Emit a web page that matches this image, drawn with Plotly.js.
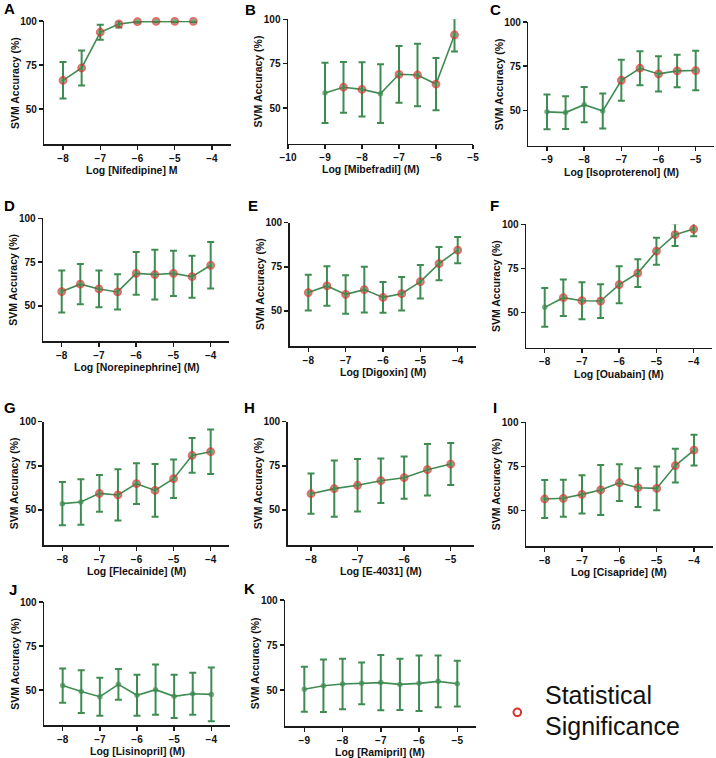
<!DOCTYPE html>
<html><head><meta charset="utf-8">
<script src="https://cdn.plot.ly/plotly-3.0.1.min.js"></script>
<style>html,body{margin:0;padding:0;background:#fff}#chart{width:716px;height:758px}</style>
</head><body><div id="chart"></div>
<script>
// ---------- DATA ----------
const nifedipineDose = [-8,-7.5,-7,-6.5,-6,-5.5,-5,-4.5];
const nifedipineAcc  = [66.3,73.3,93.6,98.3,99.6,99.8,99.8,99.8];
const nifedipineSD   = [10.4,10.0,4.3,2.0,0.5,0.3,0.3,0.3];
const nifedipineSig  = [1,1,1,1,1,1,1,1];

const mibefradilDose = [-9,-8.5,-8,-7.5,-7,-6.5,-6,-5.5];
const mibefradilAcc  = [58.5,61.7,60.5,58.1,69.0,68.6,63.5,91.2];
const mibefradilSD   = [17.0,14.3,15.3,16.6,16.0,17.6,14.7,9.4];
const mibefradilSig  = [0,1,1,0,1,1,1,1];

const isoproterenolDose = [-9,-8.5,-8,-7.5,-7,-6.5,-6,-5.5,-5];
const isoproterenolAcc  = [49.1,48.7,53.2,49.6,67.0,73.8,70.6,72.3,72.5];
const isoproterenolSD   = [9.9,9.3,10.0,9.9,11.6,9.6,10.0,9.2,11.2];
const isoproterenolSig  = [0,0,0,0,1,1,1,1,1];

const norepinephrineDose = [-8,-7.5,-7,-6.5,-6,-5.5,-5,-4.5,-4];
const norepinephrineAcc  = [58.2,62.4,59.7,58.0,68.6,67.9,68.6,66.7,73.2];
const norepinephrineSD   = [12.0,11.5,10.5,10.1,12.2,14.2,12.9,12.0,13.3];
const norepinephrineSig  = [1,1,1,1,1,1,1,1,1];

const digoxinDose = [-8,-7.5,-7,-6.5,-6,-5.5,-5,-4.5,-4];
const digoxinAcc  = [60.4,64.2,59.4,62.1,57.7,59.8,66.6,76.8,84.5];
const digoxinSD   = [10.1,11.2,10.9,13.0,8.7,9.5,9.5,9.4,7.4];
const digoxinSig  = [1,1,1,1,1,1,1,1,1];

const ouabainDose = [-8,-7.5,-7,-6.5,-6,-5.5,-5,-4.5,-4];
const ouabainAcc  = [52.8,58.3,56.6,56.4,65.7,72.3,84.7,94.1,97.3];
const ouabainSD   = [11.0,10.4,10.5,9.6,10.5,7.9,7.7,6.5,4.1];
const ouabainSig  = [0,1,1,1,1,1,1,1,1];

const flecainideDose = [-8,-7.5,-7,-6.5,-6,-5.5,-5,-4.5,-4];
const flecainideAcc  = [53.6,54.5,59.4,58.5,64.9,61.1,67.7,80.9,83.0];
const flecainideSD   = [12.2,12.9,10.4,14.5,11.5,14.9,10.9,9.8,12.6];
const flecainideSig  = [0,0,1,1,1,1,1,1,1];

const e4031Dose = [-8,-7.5,-7,-6.5,-6,-5.5,-5];
const e4031Acc  = [59.2,62.1,64.0,66.6,68.3,72.8,76.0];
const e4031SD   = [11.4,15.9,14.9,12.6,12.0,14.6,11.9];
const e4031Sig  = [1,1,1,1,1,1,1];

const cisaprideDose = [-8,-7.5,-7,-6.5,-6,-5.5,-5,-4.5,-4];
const cisaprideAcc  = [56.6,57.0,59.2,61.7,65.8,63.0,62.6,75.5,84.3];
const cisaprideSD   = [10.7,10.5,10.8,14.1,10.4,11.0,12.4,9.6,8.7];
const cisaprideSig  = [1,1,1,1,1,1,1,1,1];

const lisinoprilDose = [-8,-7.5,-7,-6.5,-6,-5.5,-5,-4.5,-4];
const lisinoprilAcc  = [52.5,49.1,46.2,53.2,47.0,50.2,46.4,47.9,47.5];
const lisinoprilSD   = [9.7,12.1,10.8,8.8,11.7,14.3,12.3,11.9,15.3];
const lisinoprilSig  = [0,0,0,0,0,0,0,0,0];

const ramiprilDose = [-9,-8.5,-8,-7.5,-7,-6.5,-6,-5.5,-5];
const ramiprilAcc  = [50.4,52.4,53.3,53.7,54.1,53.1,53.7,54.8,53.5];
const ramiprilSD   = [12.5,14.6,14.0,11.6,15.3,14.2,15.4,14.4,12.7];
const ramiprilSig  = [0,0,0,0,0,0,0,0,0];

const panelLetters = ['A','B','C','D','E','F','G','H','I','J','K'];
const xTitles = ['Log [Nifedipine] M','Log [Mibefradil] (M)','Log [Isoproterenol] (M)',
  'Log [Norepinephrine] (M)','Log [Digoxin] (M)','Log [Ouabain] (M)',
  'Log [Flecainide] (M)','Log [E-4031] (M)','Log [Cisapride] (M)',
  'Log [Lisinopril] (M)','Log [Ramipril] (M)'];
const yTitle = 'SVM Accuracy (%)';
const yTicks = [50,75,100];
const legendLabel = ['Statistical','Significance'];

// ---------- LAYOUT (pixel geometry) ----------
const W = 716, H = 758;
const series = [
  [nifedipineDose, nifedipineAcc, nifedipineSD, nifedipineSig],
  [mibefradilDose, mibefradilAcc, mibefradilSD, mibefradilSig],
  [isoproterenolDose, isoproterenolAcc, isoproterenolSD, isoproterenolSig],
  [norepinephrineDose, norepinephrineAcc, norepinephrineSD, norepinephrineSig],
  [digoxinDose, digoxinAcc, digoxinSD, digoxinSig],
  [ouabainDose, ouabainAcc, ouabainSD, ouabainSig],
  [flecainideDose, flecainideAcc, flecainideSD, flecainideSig],
  [e4031Dose, e4031Acc, e4031SD, e4031Sig],
  [cisaprideDose, cisaprideAcc, cisaprideSD, cisaprideSig],
  [lisinoprilDose, lisinoprilAcc, lisinoprilSD, lisinoprilSig],
  [ramiprilDose, ramiprilAcc, ramiprilSD, ramiprilSig]
];
const geo = [
  {x0:44.4,x1:230.6,yt:21,  yb:144.2,xr:[-8.5,-3.5],xt:[-8,-7,-6,-5,-4],lx:2,  ly:8,   tx:132},
  {x0:288, x1:473,  yt:19.3,yb:143.5,xr:[-10,-5],  xt:[-10,-9,-8,-7,-6,-5],lx:243,ly:9.5, tx:370},
  {x0:528.4,x1:714.3,yt:22,yb:145.6,xr:[-9.5,-4.5],xt:[-9,-8,-7,-6,-5],lx:488,ly:9,   tx:621},
  {x0:43.1,x1:229.3,yt:218.3,yb:341,xr:[-8.5,-3.5],xt:[-8,-7,-6,-5,-4],lx:2,  ly:205, tx:136},
  {x0:289.6,x1:476.4,yt:222.7,yb:346.3,xr:[-8.5,-3.5],xt:[-8,-7,-6,-5,-4],lx:246,ly:205.5,tx:383},
  {x0:526.1,x1:712.3,yt:224.3,yb:347.5,xr:[-8.5,-3.5],xt:[-8,-7,-6,-5,-4],lx:488,ly:205.5,tx:619},
  {x0:43.8,x1:229.2,yt:421.7,yb:545.3,xr:[-8.5,-3.5],xt:[-8,-7,-6,-5,-4],lx:2,  ly:407, tx:136},
  {x0:287.7,x1:474, yt:421.7,yb:545.3,xr:[-8.5,-4.5],xt:[-8,-7,-6,-5],lx:242,ly:407, tx:381},
  {x0:526,  x1:712.7,yt:422.3,yb:546,xr:[-8.5,-3.5],xt:[-8,-7,-6,-5,-4],lx:491,ly:407, tx:619},
  {x0:44.1,x1:229.9,yt:602,  yb:725.2,xr:[-8.5,-3.5],xt:[-8,-7,-6,-5,-4],lx:7,  ly:589, tx:137},
  {x0:285.2,x1:476.4,yt:600, yb:726,xr:[-9.5,-4.5],xt:[-9,-8,-7,-6,-5],lx:242,ly:588, tx:380}
];

const GREEN = '#3f8c52', RED = '#d8302a', AX = '#1a1a1a';
const FONT = 'Liberation Sans, Arial, Helvetica, sans-serif';
const px = v => v / W, py = v => 1 - v / H;

const traces = [];
const layout = {
  width: W, height: H, margin: {l:0,r:0,t:0,b:0},
  paper_bgcolor: '#fff', plot_bgcolor: 'rgba(0,0,0,0)',
  showlegend: false, font: {family: FONT, color: '#111'},
  annotations: [], shapes: []
};

series.forEach((s, i) => {
  const g = geo[i];
  const n = i === 0 ? '' : String(i + 1);
  const [dose, acc, sd, sig] = s;
  traces.push({
    type: 'scatter', mode: 'lines+markers', x: dose, y: acc,
    xaxis: 'x' + n, yaxis: 'y' + n, cliponaxis: false,
    line: {color: GREEN, width: 1.6},
    error_y: {type: 'data', array: sd, visible: true, color: GREEN, thickness: 2, width: 3.5},
    marker: {
      color: GREEN,
      size: sig.map(v => v ? 7 : 5.5),
      line: {color: RED, width: sig.map(v => v ? 1.8 : 0)}
    },
    hoverinfo: 'x+y'
  });
  const axCommon = {
    showline: true, linecolor: AX, linewidth: 1.5, showgrid: false, zeroline: false,
    ticks: 'outside', ticklen: 4, tickwidth: 1.5, tickcolor: AX,
    tickfont: {family: FONT, size: 10, weight: 'bold', color: '#111'}, fixedrange: true
  };
  layout['xaxis' + n] = Object.assign({}, axCommon, {
    domain: [px(g.x0), px(g.x1)], range: g.xr, tickvals: g.xt, anchor: 'y' + n
  });
  const y0 = py(g.yb), y1 = py(g.yt);
  layout['yaxis' + n] = Object.assign({}, axCommon, {
    domain: [y0, y1], range: [30, 100], tickvals: yTicks, anchor: 'x' + n
  });
  layout.annotations.push({
    xref: 'paper', yref: 'paper', x: px(g.tx), y: py(g.yb + 26),
    xanchor: 'center', yanchor: 'middle', showarrow: false,
    text: xTitles[i], font: {family: FONT, size: 10.5, weight: 'bold', color: '#111'}
  });
  layout.annotations.push({
    xref: 'paper', yref: 'paper', x: px(g.x0 - 30), y: (y0 + y1) / 2,
    xanchor: 'center', yanchor: 'middle', textangle: -90, showarrow: false,
    text: yTitle, font: {family: FONT, size: 10.5, weight: 'bold', color: '#111'}
  });
  layout.annotations.push({
    xref: 'paper', yref: 'paper', x: px(g.lx), y: py(g.ly),
    xanchor: 'left', yanchor: 'middle', showarrow: false,
    text: panelLetters[i], font: {family: FONT, size: 15, weight: 'bold', color: '#000'}
  });
});

layout.shapes.push({
  type: 'circle', xref: 'paper', yref: 'paper',
  x0: px(513.5), x1: px(521.1), y0: py(716.1), y1: py(708.5),
  line: {color: RED, width: 2}, fillcolor: 'rgba(0,0,0,0)'
});
layout.annotations.push({
  xref: 'paper', yref: 'paper', x: px(543), y: py(695), xanchor: 'left', yanchor: 'middle',
  showarrow: false, text: legendLabel[0], font: {family: FONT, size: 25, color: '#111'}
});
layout.annotations.push({
  xref: 'paper', yref: 'paper', x: px(543), y: py(726), xanchor: 'left', yanchor: 'middle',
  showarrow: false, text: legendLabel[1], font: {family: FONT, size: 25, color: '#111'}
});

Plotly.newPlot('chart', traces, layout, {displayModeBar: false, staticPlot: true});
</script></body></html>
